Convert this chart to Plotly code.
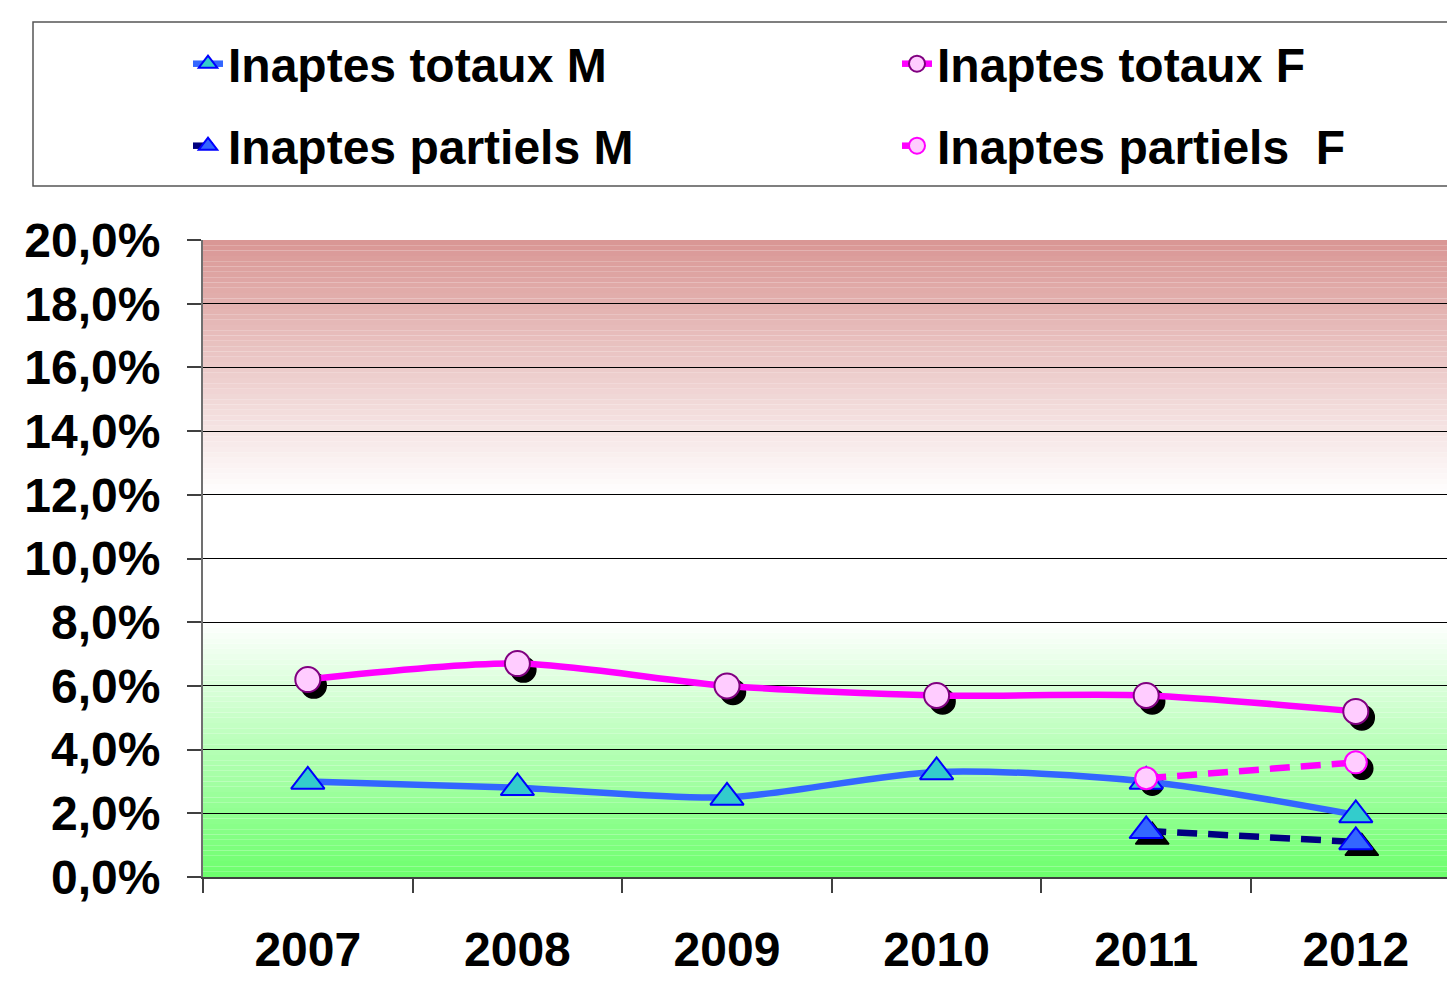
import numpy as np
import plotly.graph_objects as go

# data (percent)
years = ["2007", "2008", "2009", "2010", "2011", "2012"]
totaux_m = [3.0, 2.8, 2.5, 3.3, 3.0, 1.95]
totaux_f = [6.2, 6.7, 6.0, 5.7, 5.7, 5.2]
partiels_years = ["2011", "2012"]
partiels_m = [1.45, 1.1]
partiels_f = [3.1, 3.6]

# the page puts the figure 8px in from the window corner (body margin)
OFF = 8
W, H = 1455 - 2 * OFF, 985 - 2 * OFF
FONT = dict(family="Arial, Liberation Sans, sans-serif", size=48, color="black")

# pixel geometry of the plot area (window coordinates)
plot_left, plot_top, plot_bottom = 203, 240, 877
cat_px = 209.6
y_max = 20
xr = [-0.5, -0.5 + (W + OFF - plot_left) / cat_px]
px_per_pct = (plot_bottom - plot_top) / y_max
sh = 6  # shadow offset in px
dx = sh / cat_px
dy = sh / px_per_pct


def px(x):
    return (x - OFF) / W


def py(y):
    return 1 - (y - OFF) / H


fig = go.Figure()

# dummy trace so the visible axis gets its categories
fig.add_trace(go.Scatter(x=years, y=totaux_m, mode="none", showlegend=False,
                         hoverinfo="skip", xaxis="x", yaxis="y"))

# shadows (drawn on shifted overlay axes)
shadow = dict(color="black", line=dict(color="black", width=1.5))
fig.add_trace(go.Scatter(x=years, y=totaux_f, mode="markers", showlegend=False,
                         marker=dict(symbol="circle", size=25, **shadow),
                         xaxis="x2", yaxis="y2", hoverinfo="skip"))
fig.add_trace(go.Scatter(x=partiels_years, y=partiels_m, mode="markers", showlegend=False,
                         marker=dict(symbol="triangle-up", size=29, **shadow),
                         xaxis="x2", yaxis="y2", hoverinfo="skip"))
fig.add_trace(go.Scatter(x=partiels_years, y=partiels_f, mode="markers", showlegend=False,
                         marker=dict(symbol="circle", size=22, **shadow),
                         xaxis="x2", yaxis="y2", hoverinfo="skip"))

# main series
fig.add_trace(go.Scatter(
    x=years, y=totaux_m, name="Inaptes totaux M", mode="lines+markers",
    line=dict(color="#3366FF", width=6.5, shape="spline", smoothing=0.8),
    marker=dict(symbol="triangle-up", size=29, color="#33CCCC",
                line=dict(color="#0000FF", width=2)),
    xaxis="x3", yaxis="y3", legend="legend"))
fig.add_trace(go.Scatter(
    x=years, y=totaux_f, name="Inaptes totaux F", mode="lines+markers",
    line=dict(color="#FF00FF", width=6.5, shape="spline", smoothing=0.8),
    marker=dict(symbol="circle", size=25, color="#FFCCFF",
                line=dict(color="#800080", width=2)),
    xaxis="x3", yaxis="y3", legend="legend2"))
fig.add_trace(go.Scatter(
    x=partiels_years, y=partiels_m, name="Inaptes partiels M", mode="lines+markers",
    line=dict(color="#000080", width=6.5, dash="20px,11px"),
    marker=dict(symbol="triangle-up", size=29, color="#3366FF",
                line=dict(color="#0000FF", width=2)),
    xaxis="x3", yaxis="y3", legend="legend3"))
fig.add_trace(go.Scatter(
    x=partiels_years, y=partiels_f, name="Inaptes partiels  F", mode="lines+markers",
    line=dict(color="#FF00FF", width=6.5, dash="20px,11px"),
    marker=dict(symbol="circle", size=22, color="#FFCCFF",
                line=dict(color="#FF00FF", width=2)),
    xaxis="x3", yaxis="y3", legend="legend4"))

shapes = []
# legend box
shapes.append(dict(type="rect", xref="paper", yref="paper", layer="below",
                   x0=px(33), x1=px(1451), y0=py(186), y1=py(22),
                   fillcolor="white", line=dict(color="#555555", width=1.5)))


def gradient(y_lo, y_hi, c_lo, c_hi, n=48):
    edges = np.linspace(y_lo, y_hi, n + 1)
    for i in range(n):
        t = (i + 0.5) / n
        c = [round(a + (b - a) * t) for a, b in zip(c_lo, c_hi)]
        shapes.append(dict(type="rect", xref="x domain", yref="y", layer="below",
                           x0=0, x1=1, y0=edges[i], y1=edges[i + 1],
                           fillcolor="rgb(%d,%d,%d)" % tuple(c), line=dict(width=0)))


gradient(12, 20, (255, 255, 255), (217, 150, 148))
gradient(0, 8, (108, 255, 108), (255, 255, 255))

cat = dict(type="category", categoryorder="array", categoryarray=years)
hidden = dict(visible=False, fixedrange=True)

legend_common = dict(font=dict(FONT, weight="bold"), bgcolor="rgba(0,0,0,0)",
                     borderwidth=0, xanchor="left", yanchor="middle", orientation="h")

fig.update_layout(
    width=W, height=H, autosize=False,
    margin=dict(l=0, r=0, t=0, b=0),
    paper_bgcolor="white", plot_bgcolor="rgba(0,0,0,0)",
    separators=", ",
    font=FONT,
    shapes=shapes,
    xaxis=dict(**cat, domain=[px(plot_left), 1], range=xr, anchor="y",
               tickson="boundaries", ticks="outside", ticklen=14, tickwidth=1.5,
               tickcolor="#404040", showline=True, linecolor="#404040", linewidth=2,
               showgrid=False, zeroline=False, tickfont=dict(size=48, weight="bold"),
               ticklabelstandoff=29, automargin=False, fixedrange=True),
    yaxis=dict(domain=[py(plot_bottom), py(plot_top)], range=[0, y_max],
               anchor="x", dtick=2, tickformat=".1f", ticksuffix="%",
               ticks="outside", ticklen=14, tickwidth=1.5, tickcolor="#404040",
               showline=True, linecolor="#707070", linewidth=2, mirror=True,
               showgrid=True, gridcolor="black", gridwidth=1, zeroline=False,
               tickfont=dict(size=48, weight="bold"), ticklabelstandoff=17,
               automargin=False, fixedrange=True),
    xaxis2=dict(**cat, overlaying="x", range=[xr[0] - dx, xr[1] - dx], anchor="y2", **hidden),
    yaxis2=dict(overlaying="y", range=[dy, y_max + dy], anchor="x2", **hidden),
    xaxis3=dict(**cat, overlaying="x", range=xr, anchor="y3", **hidden),
    yaxis3=dict(overlaying="y", range=[0, y_max], anchor="x3", **hidden),
    legend=dict(**legend_common, x=px(228 - 40), y=py(64)),
    legend2=dict(**legend_common, x=px(937 - 40), y=py(64)),
    legend3=dict(**legend_common, x=px(228 - 40), y=py(146)),
    legend4=dict(**legend_common, x=px(937 - 40), y=py(146)),
    showlegend=True,
)

fig.write_html("out.html")
